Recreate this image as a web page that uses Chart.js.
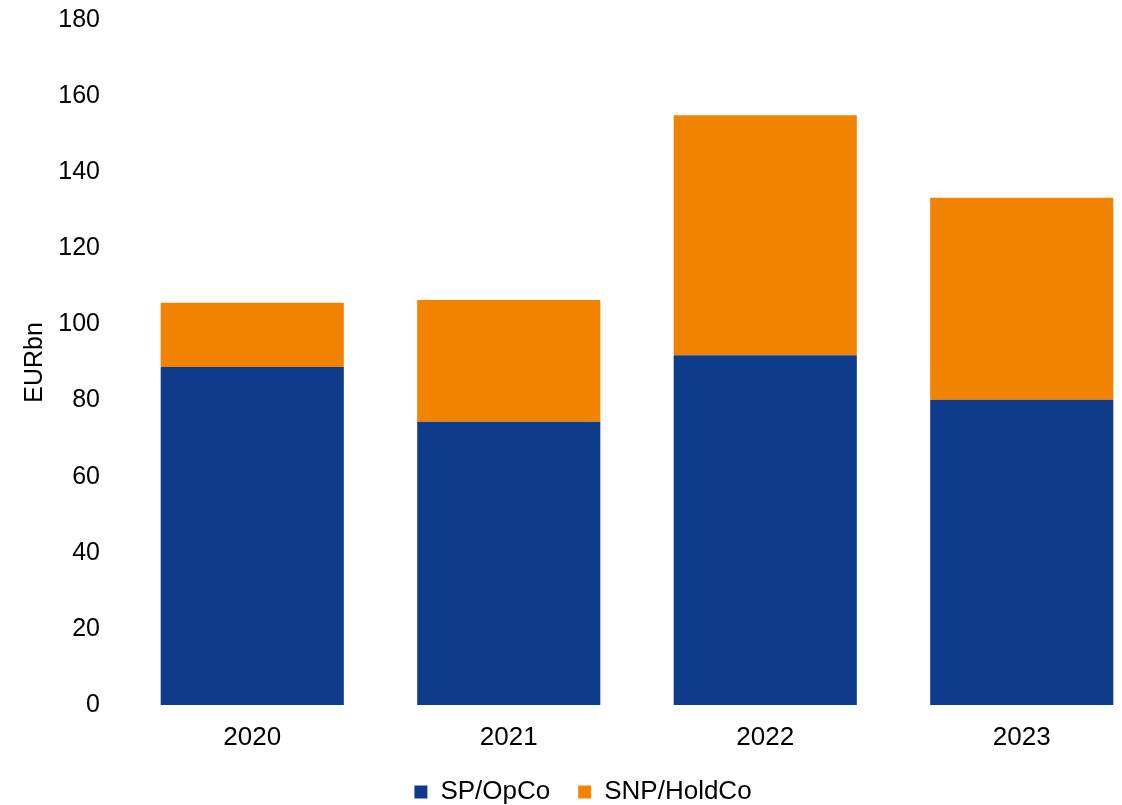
<!DOCTYPE html>
<html>
<head>
<meta charset="utf-8">
<script src="https://cdn.jsdelivr.net/npm/chart.js@4"></script>
<style>
  html, body { margin: 0; padding: 0; background: #fff; overflow: hidden; }
  #wrap { width: 1174px; height: 805px; position: relative; }
</style>
</head>
<body>
<div id="wrap"><canvas id="chart"></canvas></div>
<script>
const years = ["2020", "2021", "2022", "2023"];
const spOpCo = [88.8, 74.4, 91.9, 80.2];
const snpHoldCo = [16.9, 32.0, 63.1, 53.1];
const seriesNames = ["SP/OpCo", "SNP/HoldCo"];
const yTitle = "EURbn";

const fontFamily = "Arial, 'Liberation Sans', sans-serif";
Chart.defaults.font.family = fontFamily;
Chart.defaults.font.size = 25;
Chart.defaults.color = "#000";

const ctx = document.getElementById("chart").getContext("2d");
new Chart(ctx, {
    type: 'bar',
    data: {
        labels: years,
        datasets: [{
            label: seriesNames[0],
            data: spOpCo,
            backgroundColor: '#0f3c8a',
            barPercentage: 0.714,
            categoryPercentage: 1
        }, {
            label: seriesNames[1],
            data: snpHoldCo,
            backgroundColor: '#f18300',
            barPercentage: 0.714,
            categoryPercentage: 1
        }]
    },
    options: {
        responsive: true,
        maintainAspectRatio: false,
        animation: false,
        layout: {
            padding: { top: 0, right: 24, left: 16, bottom: -10 }
        },
        plugins: {
            legend: {
                position: 'bottom',
                labels: {
                    boxWidth: 13,
                    boxHeight: 13,
                    padding: 28,
                    font: { size: 26 }
                }
            },
            tooltip: { enabled: false }
        },
        scales: {
            x: {
                stacked: true,
                grid: { display: false, drawTicks: false },
                border: { display: false },
                ticks: { padding: 17, font: { size: 26 } },
                afterFit: function (scale) {
                    scale.height = 46;
                }
            },
            y: {
                stacked: true,
                min: 0,
                max: 180,
                grid: { display: false, drawTicks: false },
                border: { display: false },
                ticks: { stepSize: 20, padding: 24, font: { size: 25 } },
                title: { display: true, text: yTitle, font: { size: 25 }, padding: 4 },
                afterFit: function (scale) {
                    scale.width = 108;
                    scale.paddingTop = 20;
                    scale.paddingBottom = 0;
                }
            }
        }
    }
});
</script>
</body>
</html>
